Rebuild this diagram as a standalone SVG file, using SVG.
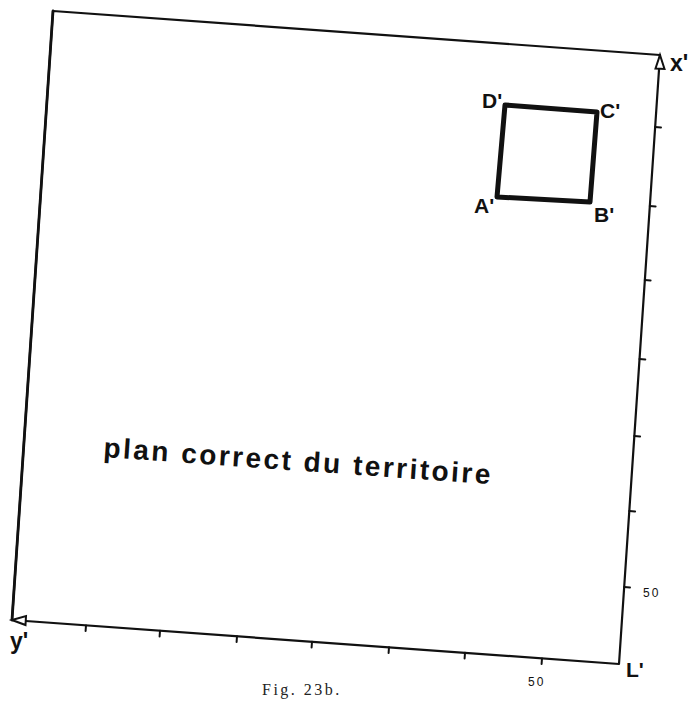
<svg xmlns="http://www.w3.org/2000/svg" width="696" height="707" viewBox="0 0 696 707">
<style>
.ax{fill:none;stroke:#111;stroke-width:2.2;stroke-linecap:round;stroke-linejoin:round}
.tk{stroke:#111;stroke-width:2;stroke-linecap:round}
.lb{font-family:"Liberation Sans",Arial,sans-serif;font-weight:bold;font-size:21px;fill:#111}
.num{font-family:"Liberation Sans",Arial,sans-serif;font-size:12px;letter-spacing:2px;fill:#111}
.ah{fill:#fff;stroke:#111;stroke-width:2;stroke-linejoin:miter}
</style>
<rect width="696" height="707" fill="#fff"/>
<g id="frame">
<path class="ax" d="M660,55 L53,11 L12,620"/>
<path class="ax" style="stroke-width:2.8" d="M53,11 L12,620"/>
</g>
<g id="axes">
<path class="ax" d="M660,55 L619,664 L12,620"/>
<polygon class="ah" points="660,55 664.5,69 655.5,68.5"/>
<polygon class="ah" points="12,620 26,616 25.5,625"/>
<g id="ticks">
<line class="tk" x1="86" y1="625.4" x2="85.6" y2="631"/>
<line class="tk" x1="160" y1="630.7" x2="159.6" y2="636.5"/>
<line class="tk" x1="237" y1="636.3" x2="236.6" y2="642"/>
<line class="tk" x1="312" y1="641.8" x2="311.6" y2="647.5"/>
<line class="tk" x1="389" y1="647.3" x2="388.6" y2="653"/>
<line class="tk" x1="465" y1="652.8" x2="464.6" y2="658.5"/>
<line class="tk" x1="542" y1="658.4" x2="541.6" y2="664"/>
<line class="tk" x1="655.1" y1="127" x2="661" y2="127.4"/>
<line class="tk" x1="649.8" y1="206" x2="655.6" y2="206.4"/>
<line class="tk" x1="644.8" y1="280" x2="650.6" y2="280.4"/>
<line class="tk" x1="639.5" y1="359" x2="645.3" y2="359.4"/>
<line class="tk" x1="634.3" y1="436" x2="640.1" y2="436.4"/>
<line class="tk" x1="629.3" y1="511" x2="635.1" y2="511.4"/>
<line class="tk" x1="624.2" y1="587" x2="630" y2="587.4"/>
</g>
<text class="num" x="643" y="597">50</text>
<text class="num" x="528" y="686">50</text>
<text class="lb" x="670" y="71" style="font-size:23px">x'</text>
<text class="lb" x="10" y="649" style="font-size:23px">y'</text>
<text class="lb" x="626" y="677">L'</text>
</g>
<g id="square">
<polygon points="505,105 597,112 590,202 497,197" fill="none" stroke="#111" stroke-width="5" stroke-linejoin="round"/>
<text class="lb" x="482" y="108">D'</text>
<text class="lb" x="600" y="118">C'</text>
<text class="lb" x="474" y="213">A'</text>
<text class="lb" x="594" y="222">B'</text>
</g>
<g id="title">
<text x="103" y="457" transform="rotate(4 103 457)" style="font-family:'Liberation Sans',Arial,sans-serif;font-weight:bold;font-size:28px;letter-spacing:2.5px;fill:#111">plan correct du territoire</text>
</g>
<text x="262" y="695" style="font-family:'Liberation Serif','Times New Roman',serif;font-size:16px;letter-spacing:2.5px;fill:#222">Fig. 23b.</text>
</svg>
